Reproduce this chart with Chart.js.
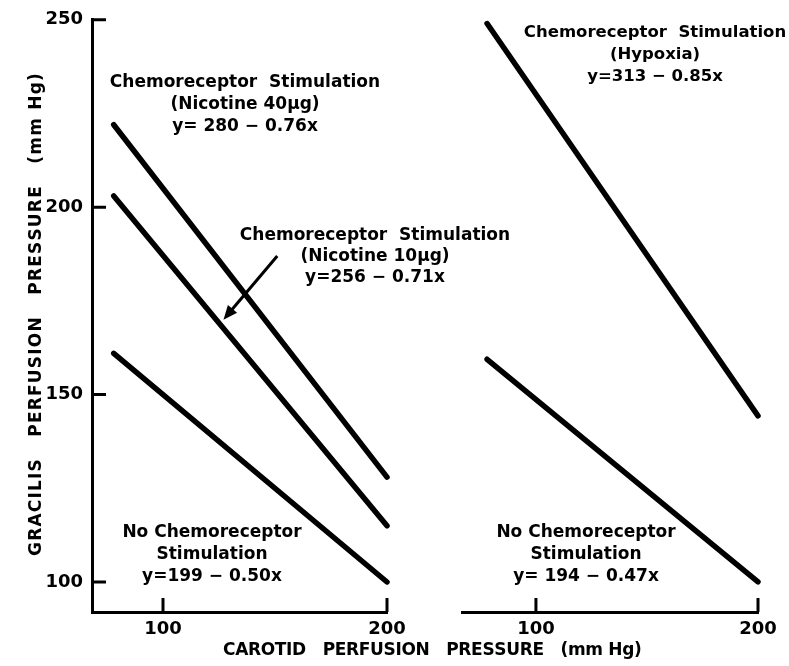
<!DOCTYPE html>
<html>
<head>
<meta charset="utf-8">
<script src="https://cdn.jsdelivr.net/npm/chart.js@4.4.1/dist/chart.umd.min.js"></script>
<style>
    html, body { margin: 0; padding: 0; background: #fff; }
    #wrap { position: relative; width: 789px; height: 666px; }
    #wrap canvas { position: absolute; left: 0; top: 0; }
</style>
</head>
<body>
<div id="wrap">
    <canvas id="leftChart" width="789" height="666"></canvas>
    <canvas id="rightChart" width="789" height="666"></canvas>
</div>
<script>
// carotid perfusion pressure at the two ends of each regression line
const xEnds = [78, 200];

// left panel: nicotine stimulation
const nicotine40 = [222, 128];
const nicotine10 = [203, 115];
const noStimLeft = [161, 100];

// right panel: hypoxia
const hypoxia = [248, 144];
const noStimRight = [159, 100];

const xTicks = [100, 200];
const yTicks = [100, 150, 200, 250];

const FONT = '"DejaVu Sans", "Open Sans", sans-serif';
const tickFont = { family: FONT, size: 18, weight: 'bold' };

const toPoints = (ys) => xEnds.map((x, i) => ({ x, y: ys[i] }));

const lineSet = (ys) => ({
    data: toPoints(ys),
    showLine: true,
    borderColor: '#000',
    borderWidth: 5.5,
    borderCapStyle: 'round',
    pointRadius: 0,
    fill: false,
    clip: false,
});

// short tick marks pointing into the plot, as on the original
const innerTicks = {
    id: 'innerTicks',
    afterDraw(chart) {
        const { ctx, chartArea, scales } = chart;
        ctx.save();
        ctx.strokeStyle = '#000';
        ctx.lineWidth = 3;
        ctx.beginPath();
        xTicks.forEach((v) => {
            const px = scales.x.getPixelForValue(v);
            ctx.moveTo(px, chartArea.bottom);
            ctx.lineTo(px, chartArea.bottom - 14);
        });
        if (scales.y.options.display) {
            yTicks.forEach((v) => {
                const py = scales.y.getPixelForValue(v);
                ctx.moveTo(chartArea.left, py);
                ctx.lineTo(chartArea.left + 14, py);
            });
        }
        ctx.stroke();
        ctx.restore();
    },
};

const drawLines = (ctx, lines, x, y, gap) => {
    lines.forEach((t, i) => ctx.fillText(t, x, y + i * gap));
};

// stretch a title to the width it takes on the original
const spreadText = (ctx, text, cx, cy, width) => {
    const natural = ctx.measureText(text).width;
    const extra = (width - natural) / (text.length - 1);
    let x = cx - width / 2;
    ctx.textAlign = 'left';
    for (const ch of text) {
        ctx.fillText(ch, x, cy);
        x += ctx.measureText(ch).width + extra;
    }
    ctx.textAlign = 'center';
};

// labels, equations, axis titles and the arrow
const notes = {
    id: 'notes',
    afterDraw(chart) {
        const { ctx, scales } = chart;
        ctx.save();
        ctx.fillStyle = '#000';
        ctx.textAlign = 'center';
        ctx.textBaseline = 'middle';
        ctx.font = `bold 17px ${FONT}`;

        drawLines(ctx, ['Chemoreceptor  Stimulation', '(Nicotine 40\u00b5g)', 'y= 280 \u2212 0.76x'], 245, 83, 22);
        drawLines(ctx, ['Chemoreceptor  Stimulation', '(Nicotine 10\u00b5g)', 'y=256 \u2212 0.71x'], 375, 236, 21);
        drawLines(ctx, ['No Chemoreceptor', 'Stimulation', 'y=199 \u2212 0.50x'], 212, 533, 22);
        drawLines(ctx, ['No Chemoreceptor', 'Stimulation', 'y= 194 \u2212 0.47x'], 586, 533, 22);

        ctx.font = `bold 16.5px ${FONT}`;
        drawLines(ctx, ['Chemoreceptor  Stimulation', '(Hypoxia)', 'y=313 \u2212 0.85x'], 655, 33, 22);

        ctx.font = `bold 17px ${FONT}`;
        spreadText(ctx, 'CAROTID   PERFUSION   PRESSURE   (mm Hg)', 432, 651, 418);
        ctx.translate(37, 315);
        ctx.rotate(-Math.PI / 2);
        spreadText(ctx, 'GRACILIS   PERFUSION   PRESSURE   (mm Hg)', 0, 0, 482);
        ctx.restore();

        // arrow pointing at the 10 ug line
        const x0 = scales.x.getPixelForValue(151), y0 = scales.y.getPixelForValue(187);
        const x1 = scales.x.getPixelForValue(127), y1 = scales.y.getPixelForValue(170);
        const ang = Math.atan2(y1 - y0, x1 - x0);
        ctx.save();
        ctx.strokeStyle = '#000';
        ctx.fillStyle = '#000';
        ctx.lineWidth = 3;
        ctx.beginPath();
        ctx.moveTo(x0, y0);
        ctx.lineTo(x1 - 8 * Math.cos(ang), y1 - 8 * Math.sin(ang));
        ctx.stroke();
        ctx.beginPath();
        ctx.moveTo(x1, y1);
        ctx.lineTo(x1 - 14 * Math.cos(ang) + 6 * Math.sin(ang), y1 - 14 * Math.sin(ang) - 6 * Math.cos(ang));
        ctx.lineTo(x1 - 14 * Math.cos(ang) - 6 * Math.sin(ang), y1 - 14 * Math.sin(ang) + 6 * Math.cos(ang));
        ctx.closePath();
        ctx.fill();
        ctx.restore();
    },
};

const makePanel = (elementId, datasets, xMin, padding, showY, extraPlugins) => {
    const element = document.getElementById(elementId);
    return new Chart(element, {
        type: 'scatter',
        data: { datasets },
        options: {
            responsive: false,
            animation: false,
            layout: { padding },
            plugins: {
                legend: { display: false },
                tooltip: { enabled: false },
            },
            scales: {
                x: {
                    type: 'linear',
                    min: xMin,
                    max: 200,
                    afterBuildTicks: (s) => { s.ticks = xTicks.map((value) => ({ value })); },
                    afterFit: (s) => { s.height = 54; },
                    grid: { display: false, drawTicks: false },
                    border: { display: true, color: '#000', width: 3 },
                    ticks: { color: '#000', font: tickFont, padding: 7, maxRotation: 0 },
                },
                y: {
                    type: 'linear',
                    display: showY,
                    min: 92,
                    max: 250,
                    afterBuildTicks: (s) => { s.ticks = yTicks.map((value) => ({ value })); },
                    afterFit: (s) => { s.width = showY ? 92 : 0; },
                    grid: { display: false, drawTicks: false },
                    border: { display: true, color: '#000', width: 3 },
                    ticks: { color: '#000', font: tickFont, padding: 9 },
                },
            },
        },
        plugins: [innerTicks, ...extraPlugins],
    });
};

makePanel(
    'leftChart',
    [lineSet(nicotine40), lineSet(nicotine10), lineSet(noStimLeft)],
    68.3,
    { top: 16, right: 402, bottom: 0, left: 0 },
    true,
    [notes]
);

makePanel(
    'rightChart',
    [lineSet(hypoxia), lineSet(noStimRight)],
    66.7,
    { top: 16, right: 31, bottom: 0, left: 462 },
    false,
    []
);
</script>
</body>
</html>
